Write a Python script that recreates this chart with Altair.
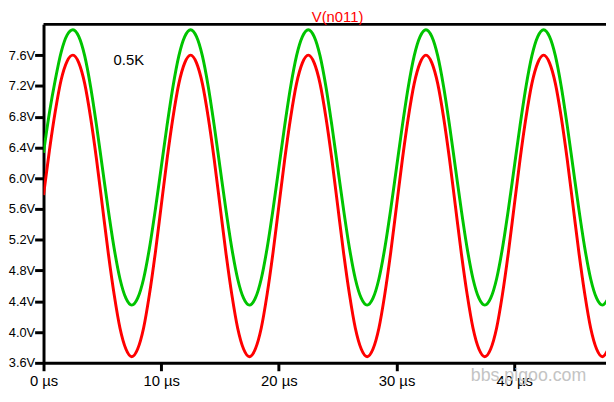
import altair as alt
import pandas as pd

# Sample times (µs), one reading every 0.5 µs
times = [i * 0.5 for i in range(97)]

# Green trace (V)
green_v = [
    6.33, 6.85, 7.28, 7.64, 7.86, 7.93, 7.84, 7.59, 7.19, 6.69,
    6.14, 5.59, 5.09, 4.69, 4.44, 4.35, 4.44, 4.69, 5.09, 5.59,
    6.14, 6.69, 7.19, 7.59, 7.84, 7.93, 7.84, 7.59, 7.19, 6.69,
    6.14, 5.59, 5.09, 4.69, 4.44, 4.35, 4.44, 4.69, 5.09, 5.59,
    6.14, 6.69, 7.19, 7.59, 7.84, 7.93, 7.84, 7.59, 7.19, 6.69,
    6.14, 5.59, 5.09, 4.69, 4.44, 4.35, 4.44, 4.69, 5.09, 5.59,
    6.14, 6.69, 7.19, 7.59, 7.84, 7.93, 7.84, 7.59, 7.19, 6.69,
    6.14, 5.59, 5.09, 4.69, 4.44, 4.35, 4.44, 4.69, 5.09, 5.59,
    6.14, 6.69, 7.19, 7.59, 7.84, 7.93, 7.84, 7.59, 7.19, 6.69,
    6.14, 5.59, 5.09, 4.69, 4.44, 4.35, 4.44,
]

# Red trace V(n011) (V)
red_v = [
    5.78, 6.36, 6.87, 7.28, 7.52, 7.60, 7.50, 7.23, 6.79, 6.25,
    5.64, 5.03, 4.49, 4.05, 3.78, 3.68, 3.78, 4.05, 4.49, 5.03,
    5.64, 6.25, 6.79, 7.23, 7.50, 7.60, 7.50, 7.23, 6.79, 6.25,
    5.64, 5.03, 4.49, 4.05, 3.78, 3.68, 3.78, 4.05, 4.49, 5.03,
    5.64, 6.25, 6.79, 7.23, 7.50, 7.60, 7.50, 7.23, 6.79, 6.25,
    5.64, 5.03, 4.49, 4.05, 3.78, 3.68, 3.78, 4.05, 4.49, 5.03,
    5.64, 6.25, 6.79, 7.23, 7.50, 7.60, 7.50, 7.23, 6.79, 6.25,
    5.64, 5.03, 4.49, 4.05, 3.78, 3.68, 3.78, 4.05, 4.49, 5.03,
    5.64, 6.25, 6.79, 7.23, 7.50, 7.60, 7.50, 7.23, 6.79, 6.25,
    5.64, 5.03, 4.49, 4.05, 3.78, 3.68, 3.78,
]

x_ticks = [0, 10, 20, 30, 40]
y_ticks = [3.6, 4.0, 4.4, 4.8, 5.2, 5.6, 6.0, 6.4, 6.8, 7.2, 7.6]
series_names = ["green", "V(n011)"]
series_colors = ["#00c400", "#ff0000"]

df = pd.DataFrame({
    "t": times * 2,
    "v": green_v + red_v,
    "series": [series_names[0]] * len(times) + [series_names[1]] * len(times),
    "order": [0] * len(times) + [1] * len(times),
})
one_row = pd.DataFrame({"k": [0]})

W, H = 570, 343
FONT = "Liberation Sans"

lines = alt.Chart(df).mark_line(strokeWidth=3, clip=True, interpolate="monotone").encode(
    x=alt.X("t:Q", scale=alt.Scale(domain=[0, 47.8], nice=False, zero=False),
            axis=alt.Axis(values=x_ticks, labelExpr="datum.value + ' µs'", title=None,
                          grid=False, domainColor="black", domainWidth=3,
                          tickColor="black", tickWidth=3, tickSize=8,
                          labelFont=FONT, labelFontSize=15, labelColor="black",
                          labelPadding=3, labelFlush=False)),
    y=alt.Y("v:Q", scale=alt.Scale(domain=[3.6, 8.0], nice=False, zero=False),
            axis=alt.Axis(values=y_ticks, labelExpr="format(datum.value, '.1f') + 'V'",
                          title=None, grid=False, domainColor="black", domainWidth=3,
                          tickColor="black", tickWidth=3, tickSize=9,
                          labelFont=FONT, labelFontSize=13, labelColor="black",
                          labelPadding=0, labelFlush=False)),
    color=alt.Color("series:N", scale=alt.Scale(domain=series_names, range=series_colors),
                    legend=None),
    detail="series:N",
    order="order:Q",
)

top_border = alt.Chart(one_row).mark_rule(color="black", strokeWidth=3).encode(
    x=alt.value(0), x2=alt.value(W), y=alt.value(0)
)

title_txt = alt.Chart(one_row).mark_text(font=FONT, fontSize=15, color="#ff0000",
                                         align="center", baseline="alphabetic").encode(
    x=alt.value(298), y=alt.value(-2.5), text=alt.value("V(n011)")
)

label_txt = alt.Chart(one_row).mark_text(font=FONT, fontSize=15, color="black",
                                         align="left", baseline="alphabetic").encode(
    x=alt.value(71), y=alt.value(41), text=alt.value("0.5K")
)

watermark = alt.Chart(one_row).mark_text(font=FONT, fontSize=18, color="#c4c4c4",
                                         align="left", baseline="alphabetic").encode(
    x=alt.value(433), y=alt.value(361), text=alt.value("bbs.pigoo.com")
)

chart = alt.layer(lines, top_border, title_txt, label_txt, watermark).properties(
    width=W, height=H,
    autosize=alt.AutoSizeParams(type="none"),
    padding={"left": 36, "top": 14, "right": 0, "bottom": 29},
    background="white",
).configure_view(strokeWidth=0)

chart.save("out.html", embed_options={"renderer": "svg", "actions": False})
